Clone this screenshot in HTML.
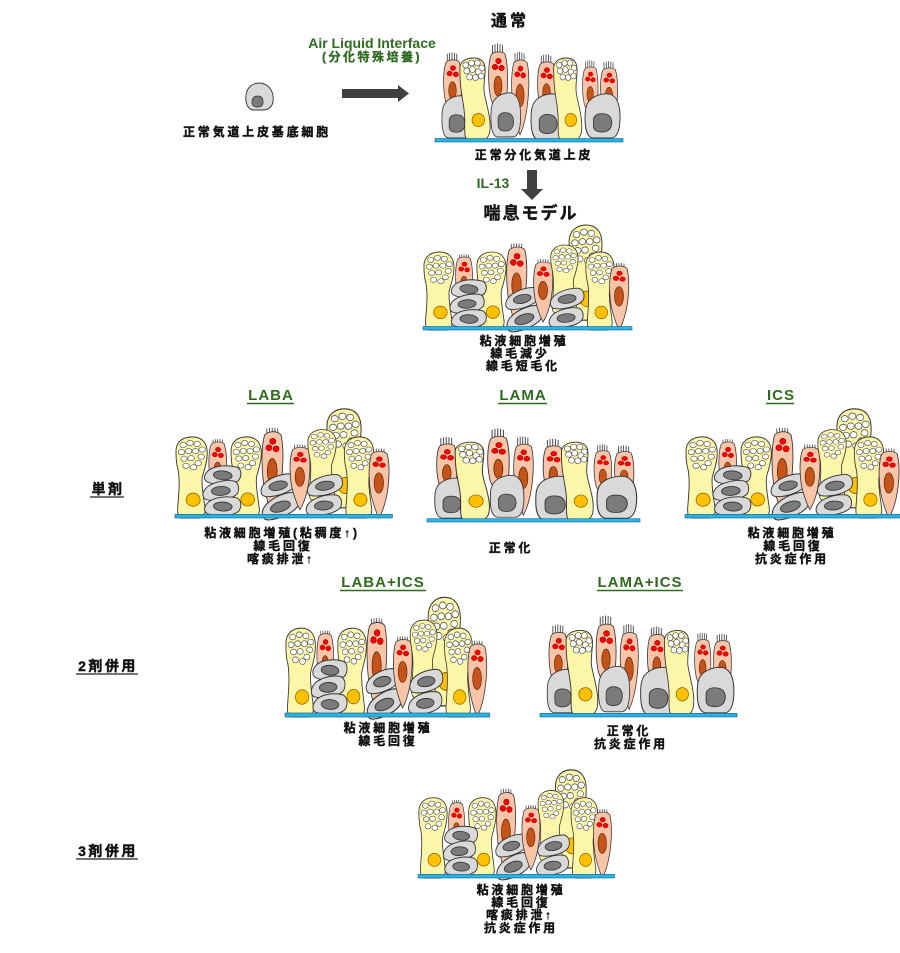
<!DOCTYPE html>
<html><head><meta charset="utf-8">
<style>
html,body{margin:0;padding:0;background:#fff;}
svg{display:block;}
.t{font-family:"Liberation Sans","Noto Sans CJK JP",sans-serif;font-weight:bold;text-anchor:middle;fill:#111;}
.c{font-size:12px;letter-spacing:2.8px;}
.k{stroke:#111;stroke-width:0.4px;}
.g{fill:#2e6b1f;}
.gk{stroke:#2e6b1f;stroke-width:0.35px;}
</style></head>
<body>
<svg width="900" height="953" viewBox="0 0 900 953" xmlns="http://www.w3.org/2000/svg">
<defs>
<g id="hairL"><path d="M4.5,2 V-7 M7,1 V-8 M9.5,1 V-8.5 M12,1 V-8 M14.5,2 V-7" stroke="#444" stroke-width="0.9" fill="none"/></g>
<g id="hairS"><path d="M5,1 V-3 M7.5,0 V-3.5 M10,0 V-3.5 M12.5,0 V-3.5 M15,1 V-3" stroke="#444" stroke-width="0.8" fill="none"/></g>
<g id="dots3"><g fill="#f00" stroke="#7a0000" stroke-width="0.5"><circle cx="10.5" cy="9" r="2.8"/><circle cx="7" cy="15" r="2.8"/><circle cx="13.5" cy="16" r="2.8"/></g></g>
<g id="bodyC">
<path d="M3,3 C6,-1 14,-1 17,2 C20,12 20,30 19,42 C18,50 14,55 10,55 C6,55 3,50 2,42 C0,30 0,12 3,3 Z" fill="#f8c5a9" stroke="#333" stroke-width="0.8"/>
<use href="#dots3"/>
<ellipse cx="10" cy="34" rx="4" ry="10" fill="#c4541a" stroke="#4a2000" stroke-width="0.6"/>
</g>
<g id="bodyT">
<path d="M3,3 C7,-1 15,-1 18,3 C21,16 20,38 17,55 C15,66 12,74 10,78 C7,70 4,60 2,48 C0,32 0,14 3,3 Z" fill="#f8c5a9" stroke="#333" stroke-width="0.8"/>
<use href="#dots3"/>
<ellipse cx="10" cy="37" rx="4.5" ry="12" fill="#c4541a" stroke="#4a2000" stroke-width="0.6"/>
</g>
<g id="cil"><use href="#hairL"/><use href="#bodyC"/></g>
<g id="cilT"><use href="#hairL"/><use href="#bodyT"/></g>
<g id="acil"><use href="#hairS"/><use href="#bodyC"/></g>
<g id="acilT"><use href="#hairS"/><use href="#bodyT"/></g>
<g id="bas">
<path d="M2,14 C4,5 14,0 24,1 C31,3 34,12 34,24 C34,36 32,44 26,45 L8,45 C3,44 1,36 1,26 C1,20 1,17 2,14 Z" fill="#d9d9d9" stroke="#333" stroke-width="0.9"/>
<path d="M9,26 C10,21 15,20 20,21 C25,22 27,27 26,32 C25,37 22,39 17,39 C12,39 9,37 9,33 Z" fill="#7b7b7b" stroke="#333" stroke-width="0.8"/>
</g>
<g id="flat">
<path d="M-17,2 C-14,-7 2,-10 13,-8 C18,-6 18,0 16,4 C11,10 -5,11 -13,9 C-17,8 -18,5 -17,2 Z" fill="#d9d9d9" stroke="#333" stroke-width="0.9"/>
<ellipse cx="0" cy="1" rx="9" ry="4.3" fill="#7b7b7b" stroke="#333" stroke-width="0.8"/>
</g>
<g id="gob">
<path d="M3,10 C3,3 10,0 17,0 C25,0 29,4 29,12 C29,20 27,26 28,34 C29,42 33,52 34,64 C35,76 32,82 26,82 L12,82 C7,82 8,72 8,62 C8,50 5,40 4,30 C3,22 3,16 3,10 Z" fill="#fcf6a8" stroke="#333" stroke-width="0.9"/>
<g fill="#fff" stroke="#444" stroke-width="0.6">
<circle cx="9" cy="7" r="3"/><circle cx="15" cy="5" r="3"/><circle cx="21" cy="5" r="3"/><circle cx="25.5" cy="10" r="3"/>
<circle cx="10" cy="13" r="3"/><circle cx="16" cy="11.5" r="3"/><circle cx="22" cy="14" r="3"/><circle cx="13" cy="19" r="3"/><circle cx="19" cy="19.5" r="3"/><circle cx="25" cy="18" r="3"/>
</g>
<ellipse cx="22" cy="62" rx="6.5" ry="6.5" fill="#ffc000" stroke="#8a5a00" stroke-width="0.7"/>
</g>
<g id="gobA">
<path d="M2,14 C2,4 10,0 18,0 C28,0 33,6 33,16 C33,26 30,32 28,40 C27,50 30,62 31,72 C31,78 28,80 24,80 L8,80 C4,80 3,76 4,66 C5,54 6,42 4,32 C2,26 2,20 2,14 Z" fill="#fcf6a8" stroke="#333" stroke-width="0.9"/>
<g fill="#fff" stroke="#444" stroke-width="0.6">
<ellipse cx="9" cy="8" rx="3.2" ry="2.6"/><ellipse cx="16" cy="6" rx="3.2" ry="2.6"/><ellipse cx="23" cy="7" rx="3.2" ry="2.6"/><ellipse cx="28" cy="12.5" rx="3.2" ry="2.6"/>
<ellipse cx="7.5" cy="15" rx="3.2" ry="2.6"/><ellipse cx="14.5" cy="14" rx="3.2" ry="2.6"/><ellipse cx="21.5" cy="14" rx="3.2" ry="2.6"/><ellipse cx="27" cy="19.5" rx="3.2" ry="2.6"/>
<ellipse cx="10" cy="21.5" rx="3.2" ry="2.6"/><ellipse cx="17" cy="21" rx="3.2" ry="2.6"/><ellipse cx="24" cy="26" rx="3.2" ry="2.6"/><ellipse cx="12" cy="28.5" rx="3.2" ry="2.6"/><ellipse cx="19.5" cy="30" rx="3.2" ry="2.6"/>
</g>
<ellipse cx="19" cy="62" rx="7" ry="6.5" fill="#ffc000" stroke="#8a5a00" stroke-width="0.7"/>
</g>

<g id="norm">
<use href="#cil" transform="translate(443,60) scale(0.95,0.9)"/>
<use href="#cil" transform="translate(488,52)"/>
<use href="#cil" transform="translate(537,62) scale(0.95,0.9)"/>
<use href="#cil" transform="translate(582,67) scale(0.82,0.8)"/>
<use href="#cil" transform="translate(600,68) scale(0.9,0.8)"/>
<use href="#cilT" transform="translate(511,60) scale(0.9,0.96)"/>
<use href="#bas" transform="translate(441,95) scale(0.91,0.955)"/>
<use href="#bas" transform="translate(490,92) scale(0.9,1)"/>
<use href="#bas" transform="translate(530,93) scale(1.03,1.04)"/>
<use href="#bas" transform="translate(584,93) scale(1.06,1)"/>
<use href="#gob" transform="translate(457,58) scale(0.97,1)"/>
<use href="#gob" transform="translate(551,58) scale(0.9,1)"/>
<rect x="435" y="138.5" width="188" height="3.5" fill="#25b5e6" stroke="#1f5f80" stroke-width="0.6"/>
</g>

<g id="asth">
<use href="#gobA" transform="translate(567,225) scale(1.06,1.19)"/>
<use href="#gobA" transform="translate(549,245) scale(0.88,0.85)"/>
<use href="#acil" transform="translate(455,257) scale(0.9,0.8)"/>
<use href="#gobA" transform="translate(422,252) scale(0.97,0.975)"/>
<use href="#gobA" transform="translate(475,252) scale(0.94,0.97)"/>
<use href="#acilT" transform="translate(506,247) scale(1.05,1.03)"/>
<use href="#flat" transform="translate(469,288) rotate(5)"/>
<use href="#flat" transform="translate(467,303) rotate(-3)"/>
<use href="#flat" transform="translate(469,318) rotate(3)"/>
<use href="#flat" transform="translate(522,298) rotate(-12)"/>
<use href="#flat" transform="translate(524,318) rotate(-18) scale(1.1)"/>
<use href="#flat" transform="translate(567,298) rotate(-8)"/>
<use href="#flat" transform="translate(566,317) rotate(-5)"/>
<use href="#acilT" transform="translate(533,262) scale(1,0.77)"/>
<use href="#gobA" transform="translate(584,252) scale(0.91,0.975)"/>
<use href="#acilT" transform="translate(609,266) scale(1,0.82)"/>
<rect x="423" y="326.5" width="209" height="3.5" fill="#25b5e6" stroke="#1f5f80" stroke-width="0.6"/>
</g>
</defs>

<path d="M246,95 C247,87 253,83 259,83 C266,83 272,88 273,96 C274,104 271,109 264,110 L253,110 C248,109 245,104 246,95 Z" fill="#d9d9d9" stroke="#333" stroke-width="0.9"/>
<path d="M252,102 C252,97 255,96 258,96 C261,96 263,98 263,102 C263,106 261,107 257,107 C254,107 252,106 252,102 Z" fill="#7b7b7b" stroke="#333" stroke-width="0.8"/>

<polygon points="342,89 398,89 398,85 409,93.5 398,102 398,98 342,98" fill="#404040"/>
<polygon points="527,170 537,170 537,189 543,189 532,200 521,189 527,189" fill="#404040"/>

<use href="#norm"/>
<use href="#asth"/>
<use href="#asth" transform="translate(-264.92,174.8) scale(1.04)"/>
<use href="#norm" transform="translate(-65.9,387.1) scale(1.133,0.95)"/>
<use href="#asth" transform="translate(245.08,174.8) scale(1.04)"/>
<use href="#asth" transform="translate(-129.54,340.8) scale(0.98,1.14)"/>
<use href="#norm" transform="translate(84.1,570.7) scale(1.048,1.03)"/>
<use href="#asth" transform="translate(20.38,538.1) scale(0.94,1.03)"/>

<text class="t k" x="510" y="26" font-size="16" letter-spacing="3">通常</text>
<text class="t g" x="372" y="48" font-size="14">Air Liquid Interface</text>
<text class="t g gk" x="372" y="61" font-size="12" letter-spacing="2.5">(分化特殊培養)</text>
<text class="t c k" x="257" y="136">正常気道上皮基底細胞</text>
<text class="t c k" x="534" y="159">正常分化気道上皮</text>
<text class="t g" x="493" y="188" font-size="14">IL-13</text>
<text class="t k" x="531" y="219" font-size="17" letter-spacing="2">喘息モデル</text>

<text class="t c k" x="524" y="345">粘液細胞増殖</text>
<text class="t c k" x="520" y="357.5">線毛減少</text>
<text class="t c k" x="523" y="370">線毛短毛化</text>

<text class="t g" x="271" y="400" font-size="15" letter-spacing="1">LABA</text>
<line x1="247" y1="403.5" x2="294" y2="403.5" stroke="#2e6b1f" stroke-width="1.4"/>
<text class="t g" x="523" y="400" font-size="15" letter-spacing="1">LAMA</text>
<line x1="498" y1="403.5" x2="547" y2="403.5" stroke="#2e6b1f" stroke-width="1.4"/>
<text class="t g" x="781" y="400" font-size="15" letter-spacing="1">ICS</text>
<line x1="766" y1="403.5" x2="794" y2="403.5" stroke="#2e6b1f" stroke-width="1.4"/>

<text class="t k" x="108" y="494" font-size="14" letter-spacing="2.5">単剤</text>
<line x1="90" y1="497" x2="124" y2="497" stroke="#222" stroke-width="1.2"/>

<text class="t c k" x="282" y="537">粘液細胞増殖(粘稠度↑)</text>
<text class="t c k" x="283" y="550">線毛回復</text>
<text class="t c k" x="281" y="563">喀痰排泄↑</text>
<text class="t c k" x="511" y="552">正常化</text>
<text class="t c k" x="792" y="537">粘液細胞増殖</text>
<text class="t c k" x="793" y="550">線毛回復</text>
<text class="t c k" x="792" y="563">抗炎症作用</text>

<text class="t g" x="383" y="587" font-size="15" letter-spacing="1">LABA+ICS</text>
<line x1="340" y1="590.5" x2="426" y2="590.5" stroke="#2e6b1f" stroke-width="1.4"/>
<text class="t g" x="640" y="587" font-size="15" letter-spacing="1">LAMA+ICS</text>
<line x1="597" y1="590.5" x2="683" y2="590.5" stroke="#2e6b1f" stroke-width="1.4"/>

<text class="t k" x="108" y="671" font-size="14" letter-spacing="2.5">2剤併用</text>
<line x1="76" y1="674" x2="138" y2="674" stroke="#222" stroke-width="1.2"/>

<text class="t c k" x="388" y="732">粘液細胞増殖</text>
<text class="t c k" x="388" y="745">線毛回復</text>
<text class="t c k" x="629" y="735">正常化</text>
<text class="t c k" x="631" y="748">抗炎症作用</text>

<text class="t k" x="108" y="856" font-size="14" letter-spacing="2.5">3剤併用</text>
<line x1="76" y1="859" x2="138" y2="859" stroke="#222" stroke-width="1.2"/>

<text class="t c k" x="521" y="894">粘液細胞増殖</text>
<text class="t c k" x="521" y="906.5">線毛回復</text>
<text class="t c k" x="520" y="919">喀痰排泄↑</text>
<text class="t c k" x="521" y="932">抗炎症作用</text>
</svg>
</body></html>
